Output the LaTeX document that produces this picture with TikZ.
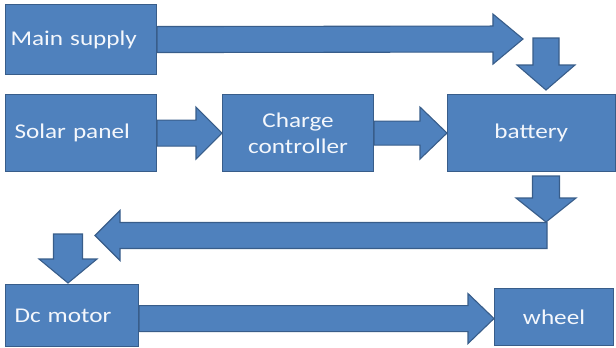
\documentclass[tikz,border=0pt]{standalone}
\usepackage{fontspec}
\setmainfont[FakeStretch=1.2]{Carlito}
\usetikzlibrary{calc}

\definecolor{boxfill}{RGB}{79,129,189}
\definecolor{boxline}{RGB}{56,93,138}
\definecolor{boxtext}{RGB}{244,247,252}

% Block arrow: #1 start, #2 tip, #3 shaft half-width, #4 head half-width, #5 head length
\newcommand{\blockarrow}[5]{%
  \coordinate (neck) at ($(#2)!#5!(#1)$);
  \draw[flowarrow] ($(#1)!#3!90:(#2)$) -- ($(neck)!#3!90:(#2)$)
    -- ($(neck)!#4!90:(#2)$) -- (#2) -- ($(neck)!#4!-90:(#2)$)
    -- ($(neck)!#3!-90:(#2)$) -- ($(#1)!#3!-90:(#2)$) -- cycle;}

\begin{document}
\begin{tikzpicture}[x=1pt,y=-1pt,
  blockbox/.style={draw=boxline, fill=boxfill, line width=1.1pt, rectangle,
    anchor=north west, inner sep=0pt, text=boxtext,
    font=\fontsize{21}{26}\selectfont},
  leftbox/.style={blockbox, align=left, inner xsep=5pt},
  centerbox/.style={blockbox, align=center},
  flowarrow/.style={draw=boxline, fill=boxfill, line width=1.1pt, line join=miter}]
\useasboundingbox (0,0) rectangle (616,348);

% blocks
\node[leftbox, text width=141pt, minimum height=70pt] (ms) at (5,4) {Main supply};
\node[leftbox, inner xsep=9pt, text width=133pt, minimum height=77pt] (sp) at (5,94) {Solar panel};
\node[centerbox, minimum width=151pt, minimum height=77pt] (cc) at (222,94) {Charge\\controller};
\node[centerbox, minimum width=167.5pt, minimum height=77pt] (bat) at (447,94) {battery};
\node[leftbox, inner xsep=9pt, text width=115pt, minimum height=62pt] (dc) at (5,284) {Dc motor};
\node[centerbox, minimum width=119pt, minimum height=57pt] (wh) at (494,288) {wheel};

% free ends of the connectors
\coordinate (msTip) at (523,39);
\coordinate (supTop) at (546,38);
\coordinate (supTip) at (546,90);
\coordinate (batOut) at (546,176);
\coordinate (busTop) at (546,222);
\coordinate (busEnd) at (547,235.5);
\coordinate (busTip) at (95,235.5);
\coordinate (dcTop) at (68,234);
\coordinate (dcIn) at (68,283);
\coordinate (whIn) at ($(wh.west)+(0,1.5)$);
\coordinate (dcOut) at (dc.east |- whIn);

% connectors
\blockarrow{ms.east}{msTip}{13pt}{25pt}{30pt}
\blockarrow{supTop}{supTip}{13pt}{29pt}{25pt}
\blockarrow{sp.east}{cc.west}{13pt}{26pt}{26pt}
\blockarrow{cc.east}{bat.west}{12pt}{26pt}{27pt}
\blockarrow{batOut}{busTop}{13.5pt}{30pt}{24pt}
\blockarrow{busEnd}{busTip}{13pt}{25pt}{25pt}
\blockarrow{dcTop}{dcIn}{14.5pt}{29pt}{24pt}
\blockarrow{dcOut}{whIn}{13pt}{25pt}{26pt}
\end{tikzpicture}
\end{document}
